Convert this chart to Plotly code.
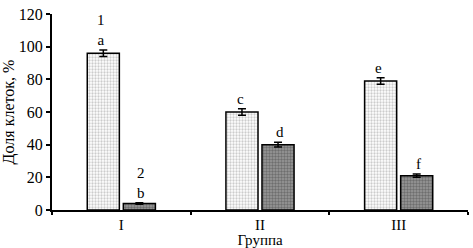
import plotly.graph_objects as go

groups = ["I", "II", "III"]
series1 = [96, 60, 79]
series2 = [4, 40, 21]
err1 = [2, 2, 2]
err2 = [0.5, 1.5, 1]
labels1 = ["1<br>a", "c", "e"]
labels2 = ["2<br>b", "d", "f"]
yticks = [0, 20, 40, 60, 80, 100, 120]

FONT = "Liberation Serif, Times New Roman, serif"
FS = 16

fig = go.Figure()
fig.add_bar(
    x=groups, y=series1, name="1",
    error_y=dict(type="data", array=err1, color="black", thickness=1.5, width=4),
    marker=dict(color="white", line=dict(color="black", width=1.5),
                pattern=dict(shape=".", fgcolor="#999", bgcolor="white", size=3, solidity=0.45)),
)
fig.add_bar(
    x=groups, y=series2, name="2",
    error_y=dict(type="data", array=err2, color="black", thickness=1.5, width=4),
    marker=dict(color="#777", line=dict(color="black", width=1.5),
                pattern=dict(shape=".", fgcolor="#444", bgcolor="#999", size=3, solidity=0.5)),
)

for g, v, e, t in zip(groups, series1, err1, labels1):
    fig.add_annotation(x=g, y=v + e, text=t, showarrow=False, xshift=-20, yanchor="bottom",
                       yshift=0, font=dict(family=FONT, size=15, color="black"))
for g, v, e, t in zip(groups, series2, err2, labels2):
    fig.add_annotation(x=g, y=v + e, text=t, showarrow=False, xshift=20, yanchor="bottom",
                       yshift=0, font=dict(family=FONT, size=15, color="black"))

fig.update_layout(
    width=473, height=248,
    margin=dict(l=52, r=5, t=14, b=38),
    plot_bgcolor="white", paper_bgcolor="white",
    barmode="group", bargap=0.48, bargroupgap=0.11,
    showlegend=False,
    font=dict(family=FONT, size=FS, color="black"),
    xaxis=dict(
        automargin=False,
        showline=True, linecolor="black", linewidth=2,
        ticks="outside", tickson="boundaries", ticklen=3, tickwidth=1.5, tickcolor="black",
        title=dict(text="Группа", standoff=3, font=dict(family=FONT, size=15)),
        tickfont=dict(family=FONT, size=15),
    ),
    yaxis=dict(
        automargin=False,
        range=[0, 120], tickvals=yticks, showgrid=False, zeroline=False,
        showline=True, linecolor="black", linewidth=2,
        ticks="outside", ticklen=4, tickwidth=1.5, tickcolor="black",
        title=dict(text="Доля клеток, %", standoff=5, font=dict(family=FONT, size=FS)),
        tickfont=dict(family=FONT, size=FS),
    ),
)

fig.write_html("out.html", config={"displayModeBar": False},
               post_script="document.body.style.margin='0';document.body.style.overflow='hidden';")
